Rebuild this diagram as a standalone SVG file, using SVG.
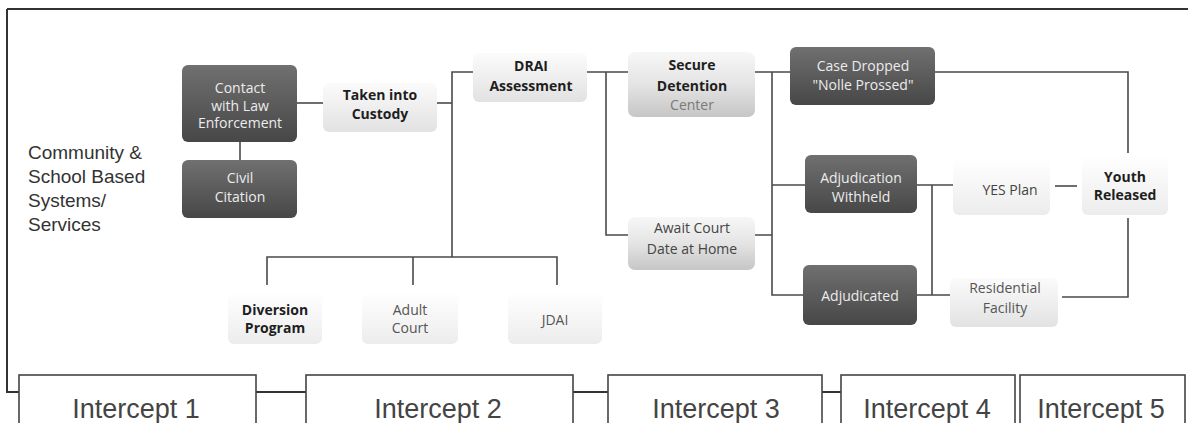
<svg xmlns="http://www.w3.org/2000/svg" width="1188" height="423" viewBox="0 0 1188 423">
<defs>
<linearGradient id="gDark" x1="0" y1="0" x2="0" y2="1">
<stop offset="0" stop-color="#707070"/><stop offset="1" stop-color="#474747"/>
</linearGradient>
<linearGradient id="gLight" x1="0" y1="0" x2="0" y2="1">
<stop offset="0" stop-color="#fbfbfb"/><stop offset="1" stop-color="#e2e2e2"/>
</linearGradient>
<linearGradient id="gMid" x1="0" y1="0" x2="0" y2="1">
<stop offset="0" stop-color="#f7f7f7"/><stop offset="0.5" stop-color="#e4e4e4"/><stop offset="1" stop-color="#c6c6c6"/>
</linearGradient>
<linearGradient id="gFaint" x1="0" y1="0" x2="0" y2="1">
<stop offset="0" stop-color="#ffffff"/><stop offset="1" stop-color="#ececec"/>
</linearGradient>
<style>
.conn{stroke:#4a4a4a;stroke-width:1.6;fill:none}
.frame{stroke:#333;stroke-width:2;fill:none}
.dark{fill:url(#gDark)}
.light{fill:url(#gLight)}
.mid{fill:url(#gMid)}
.faint{fill:url(#gFaint)}
.t{font-family:"Open Sans","Noto Sans",sans-serif;font-size:14px;text-anchor:middle}
.tw{fill:#ececec}
.tb{fill:#1e1e1e;font-weight:bold}
.tg{fill:#555}
.ib{fill:#fff;stroke:#444;stroke-width:1.6}
.it{font-family:"Liberation Sans",Arial,sans-serif;font-size:27px;fill:#444;text-anchor:middle}
.side{font-family:"Liberation Sans",Arial,sans-serif;font-size:19px;fill:#333}
</style>
</defs>
<rect width="1188" height="423" fill="#ffffff"/>

<g id="connectors">
<path class="frame" d="M7,9 H1188 M7,9 V392 H19"/>
<path class="frame" d="M256,392 H306 M573,392 H608 M822,392 H841"/>
<path class="conn" d="M240,142 V160"/>
<path class="conn" d="M297,103 H323"/>
<path class="conn" d="M437,103 H452"/>
<path class="conn" d="M473,72 H452 V257"/>
<path class="conn" d="M267,285 V257 H557 V285 M413,257 V285"/>
<path class="conn" d="M587,72 H628 M606,72 V235 H628"/>
<path class="conn" d="M755,72 H790 M772,72 V295 H803 M755,235 H772 M772,185 H805"/>
<path class="conn" d="M935,72 H1128 V153"/>
<path class="conn" d="M917,185 H953 M932,185 V295 M917,295 H950"/>
<path class="conn" d="M1055,186 H1077"/>
<path class="conn" d="M1128,218 V297 H1062"/>
</g>

<g id="side-label">
<text class="side" x="28" y="159">Community &amp;</text>
<text class="side" x="28" y="183">School Based</text>
<text class="side" x="28" y="207">Systems/</text>
<text class="side" x="28" y="231">Services</text>
</g>

<g id="contact">
<rect class="dark" x="182" y="65" width="115" height="77" rx="6"/>
<text class="t tw" x="240" y="93">Contact</text>
<text class="t tw" x="240" y="111">with Law</text>
<text class="t tw" x="240" y="128">Enforcement</text>
</g>
<g id="civil">
<rect class="dark" x="182" y="160" width="115" height="58" rx="6"/>
<text class="t tw" x="240" y="183">Civil</text>
<text class="t tw" x="240" y="202">Citation</text>
</g>
<g id="taken">
<rect class="light" x="323" y="83" width="114" height="49" rx="6"/>
<text class="t tb" x="380" y="100">Taken into</text>
<text class="t tb" x="380" y="119">Custody</text>
</g>
<g id="drai">
<rect class="light" x="473" y="53" width="114" height="49" rx="6"/>
<text class="t tb" x="531" y="71">DRAI</text>
<text class="t tb" x="531" y="91">Assessment</text>
</g>
<g id="secure">
<rect class="mid" x="628" y="52" width="127" height="65" rx="7"/>
<text class="t tb" x="692" y="70">Secure</text>
<text class="t tb" x="692" y="91">Detention</text>
<text class="t" x="692" y="110" fill="#7a7a7a">Center</text>
</g>
<g id="await">
<rect class="mid" x="628" y="217" width="127" height="53" rx="7"/>
<text class="t" x="692" y="233" fill="#444">Await Court</text>
<text class="t" x="692" y="254" fill="#444">Date at Home</text>
</g>
<g id="case-dropped">
<rect class="dark" x="790" y="47" width="145" height="58" rx="6"/>
<text class="t tw" x="863" y="71">Case Dropped</text>
<text class="t tw" x="863" y="90">"Nolle Prossed"</text>
</g>
<g id="adj-withheld">
<rect class="dark" x="805" y="155" width="112" height="58" rx="6"/>
<text class="t tw" x="861" y="183">Adjudication</text>
<text class="t tw" x="861" y="202">Withheld</text>
</g>
<g id="adjudicated">
<rect class="dark" x="803" y="265" width="114" height="60" rx="6"/>
<text class="t tw" x="860" y="301">Adjudicated</text>
</g>
<g id="yes-plan">
<rect class="faint" x="953" y="158" width="97" height="57" rx="6"/>
<text class="t" x="1010" y="195" fill="#444">YES Plan</text>
</g>
<g id="youth-released">
<rect class="faint" x="1082" y="155" width="86" height="60" rx="6"/>
<text class="t tb" x="1125" y="182">Youth</text>
<text class="t tb" x="1125" y="200">Released</text>
</g>
<g id="residential">
<rect class="light" x="950" y="278" width="108" height="49" rx="6"/>
<text class="t tg" x="1005" y="293">Residential</text>
<text class="t tg" x="1005" y="313">Facility</text>
</g>
<g id="diversion">
<rect class="faint" x="228" y="292" width="94" height="52" rx="6"/>
<text class="t tb" x="275" y="315">Diversion</text>
<text class="t tb" x="275" y="333">Program</text>
</g>
<g id="adult-court">
<rect class="faint" x="362" y="292" width="96" height="52" rx="6"/>
<text class="t tg" x="410" y="315">Adult</text>
<text class="t tg" x="410" y="333">Court</text>
</g>
<g id="jdai">
<rect class="faint" x="508" y="292" width="94" height="52" rx="6"/>
<text class="t tg" x="555" y="325">JDAI</text>
</g>

<g id="intercept-1">
<rect class="ib" x="19" y="375" width="237" height="60"/>
<text class="it" x="136" y="418">Intercept 1</text>
</g>
<g id="intercept-2">
<rect class="ib" x="306" y="375" width="267" height="60"/>
<text class="it" x="438" y="418">Intercept 2</text>
</g>
<g id="intercept-3">
<rect class="ib" x="608" y="375" width="214" height="60"/>
<text class="it" x="716" y="418">Intercept 3</text>
</g>
<g id="intercept-4">
<rect class="ib" x="841" y="375" width="174" height="60"/>
<text class="it" x="927" y="418">Intercept 4</text>
</g>
<g id="intercept-5">
<rect class="ib" x="1020" y="375" width="165" height="60"/>
<text class="it" x="1101" y="418">Intercept 5</text>
</g>
</svg>
